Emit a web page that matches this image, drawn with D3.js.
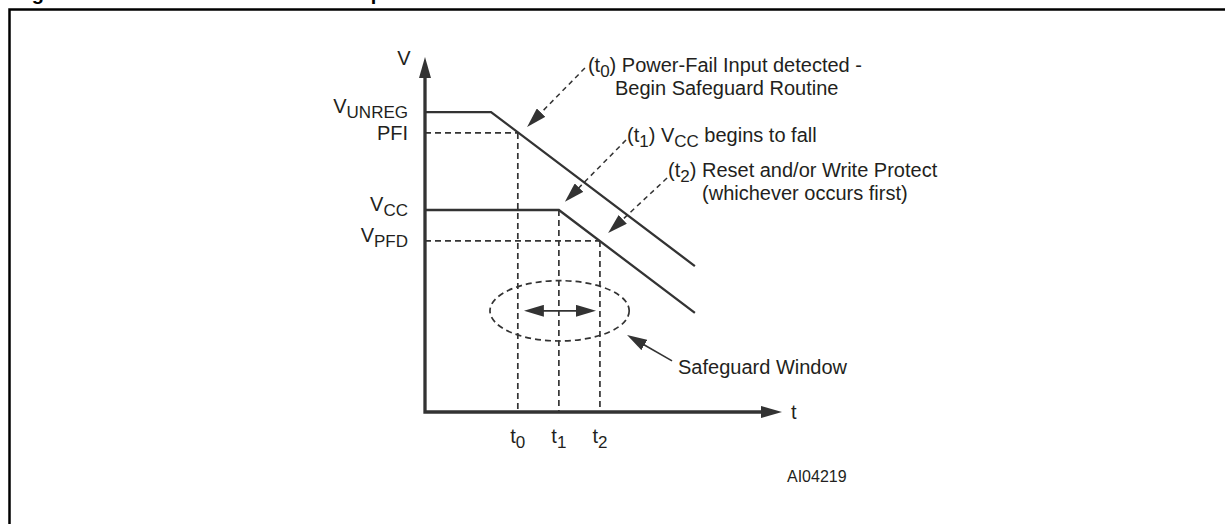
<!DOCTYPE html>
<meta charset="utf-8">
<title>Power-fail safeguard timing</title>
<style>
  body { margin: 0; background: #fff; }
  svg { display: block; }
  text { font-family: "Liberation Sans", Arial, sans-serif; fill: #231f20; }
</style>
<body>
<svg width="1225" height="524"></svg>
<script src="https://d3js.org/d3.v7.min.js"></script>
<script>
  // ---- values (time / voltage in arbitrary units) ----
  var tMax = 10, vMax = 10;
  var timeMarks = [
    { sub: "0", t: 2.6 },
    { sub: "1", t: 3.75 },
    { sub: "2", t: 4.9 }
  ];
  var levels = [
    { name: "V", sub: "UNREG", v: 8.45 },
    { name: "PFI", sub: "", v: 7.86 },
    { name: "V", sub: "CC", v: 5.69 },
    { name: "V", sub: "PFD", v: 4.82 }
  ];
  var unregCurve = [[0, 8.45], [1.85, 8.45], [7.56, 4.11]];
  var vccCurve = [[0, 5.69], [3.75, 5.69], [7.56, 2.79]];
  // dashed guide lines [from, to]
  var guides = [
    [[0, 7.86], [2.6, 7.86]],
    [[2.6, 7.86], [2.6, 0]],
    [[3.75, 5.69], [3.75, 0]],
    [[0, 4.82], [4.9, 4.82]],
    [[4.9, 4.82], [4.9, 0]]
  ];
  var windowCenter = [3.77, 2.85];
  var windowRadius = [1.95, 0.85];
  var windowSpan = [2.77, 4.79];
  // callouts: leader from -> arrow tip, text lines (parts: [text, isSubscript])
  var callouts = [
    { from: [4.48, 9.69], to: [2.86, 8.03], dashed: true,
      lines: [[["(t", 0], ["0", 1], [") Power-Fail Input detected -", 0]],
              [["Begin Safeguard Routine", 0]]] },
    { from: [5.63, 7.66], to: [3.92, 5.92], dashed: true,
      lines: [[["(t", 0], ["1", 1], [") V", 0], ["CC", 1], [" begins to fall", 0]]] },
    { from: [6.78, 6.59], to: [5.13, 5.04], dashed: true,
      lines: [[["(t", 0], ["2", 1], [") Reset and/or Write Protect", 0]],
              [["(whichever occurs first)", 0]]] },
    { from: [6.92, 1.44], to: [5.66, 2.17], dashed: false,
      lines: [[["Safeguard Window", 0]]] }
  ];
  var title = "Figure 12. Power-fail Detection and Input";
  var drawingId = "AI04219";

  // ---- layout ----
  var svg = d3.select("svg");
  var ink = "#333";
  var x = d3.scaleLinear().domain([0, tMax]).range([425, 782]);
  var y = d3.scaleLinear().domain([0, vMax]).range([412, 57]);
  var line = d3.line().x(function (d) { return x(d[0]); }).y(function (d) { return y(d[1]); });

  // text offsets for callouts: first line from leader start, indent of second line
  var calloutText = [
    { dx: 3, dy: 4, indent: 27 },
    { dx: 1, dy: 2, indent: 0 },
    { dx: 1, dy: -1, indent: 34 },
    { dx: 6, dy: 13, indent: 0 }
  ];

  var defs = svg.append("defs");
  function marker(id, len, wid, back) {
    defs.append("marker")
      .attr("id", id)
      .attr("markerUnits", "userSpaceOnUse")
      .attr("viewBox", "0 0 " + len + " " + wid)
      .attr("markerWidth", len).attr("markerHeight", wid)
      .attr("refX", len - back).attr("refY", wid / 2)
      .attr("orient", "auto-start-reverse")
      .append("path")
      .attr("d", "M0,0L" + len + "," + (wid / 2) + "L0," + wid + "Z")
      .attr("fill", ink);
  }
  marker("axisHead", 21, 12, 16);
  marker("head", 20, 12, 14);

  // move end point q back toward p by d pixels
  function shorten(p, q, d) {
    var dx = q[0] - p[0], dy = q[1] - p[1], len = Math.hypot(dx, dy);
    return [q[0] - dx / len * d, q[1] - dy / len * d];
  }

  function rich(sel, parts) {
    var shifted = false;
    parts.forEach(function (p) {
      var ts = sel.append("tspan").text(p[0]);
      if (p[1] && !shifted) { ts.attr("dy", 5).style("font-size", "17px"); shifted = true; }
      else if (p[1]) { ts.style("font-size", "17px"); }
      else if (shifted) { ts.attr("dy", -5); shifted = false; }
    });
  }

  // outer frame and cropped title
  svg.append("rect")
    .attr("x", 9.5).attr("y", 9.5).attr("width", 1400).attr("height", 700)
    .attr("fill", "none").attr("stroke", "#000").attr("stroke-width", 2.5);
  svg.append("text").attr("x", 14).attr("y", 0)
    .style("font-weight", "bold").style("font-size", "20px").style("fill", "#000")
    .text(title);

  // dashed guides
  svg.append("g").selectAll("path").data(guides).enter().append("path")
    .attr("d", line)
    .attr("fill", "none").attr("stroke", ink).attr("stroke-width", 1.7)
    .attr("stroke-dasharray", "6,4");

  // safeguard window
  svg.append("ellipse")
    .attr("cx", x(windowCenter[0])).attr("cy", y(windowCenter[1]))
    .attr("rx", x(windowCenter[0] + windowRadius[0]) - x(windowCenter[0]))
    .attr("ry", y(windowCenter[1] - windowRadius[1]) - y(windowCenter[1]))
    .attr("fill", "none").attr("stroke", ink).attr("stroke-width", 1.7)
    .attr("stroke-dasharray", "6,4");
  var wl = [x(windowSpan[0]), y(windowCenter[1])], wr = [x(windowSpan[1]), y(windowCenter[1])];
  var a = shorten(wr, wl, 14), b = shorten(wl, wr, 14);
  svg.append("path")
    .attr("d", "M" + a + "L" + b)
    .attr("stroke", ink).attr("stroke-width", 1.7)
    .attr("marker-start", "url(#head)").attr("marker-end", "url(#head)");

  // voltage curves
  svg.append("g").selectAll("path").data([unregCurve, vccCurve]).enter().append("path")
    .attr("d", line)
    .attr("fill", "none").attr("stroke", ink).attr("stroke-width", 2.3)
    .attr("stroke-linejoin", "miter");

  // axes
  svg.append("path")
    .attr("d", "M" + x(0) + "," + (y(vMax) + 16) + "L" + x(0) + "," + y(0) + "L" + (x(tMax) - 16) + "," + y(0))
    .attr("fill", "none").attr("stroke", ink).attr("stroke-width", 3.3)
    .attr("marker-start", "url(#axisHead)").attr("marker-end", "url(#axisHead)");
  svg.append("text").attr("x", x(0) - 21).attr("y", y(vMax) + 8)
    .attr("text-anchor", "middle").style("font-size", "20px").text("V");
  svg.append("text").attr("x", x(tMax) + 9).attr("y", y(0) + 7)
    .style("font-size", "20px").text("t");

  // level labels
  svg.append("g").selectAll("text").data(levels).enter().append("text")
    .attr("x", x(0) - 17)
    .attr("y", function (d) { return y(d.v) + (d.sub ? 1 : 7); })
    .attr("text-anchor", "end").style("font-size", "20px")
    .each(function (d) {
      rich(d3.select(this), d.sub ? [[d.name, 0], [d.sub, 1]] : [[d.name, 0]]);
    });

  // time labels
  svg.append("g").selectAll("text").data(timeMarks).enter().append("text")
    .attr("x", function (d) { return x(d.t); })
    .attr("y", y(0) + 31)
    .attr("text-anchor", "middle").style("font-size", "20px")
    .each(function (d) { rich(d3.select(this), [["t", 0], [d.sub, 1]]); });

  // callouts
  callouts.forEach(function (c, i) {
    var p = [x(c.from[0]), y(c.from[1])], q = [x(c.to[0]), y(c.to[1])];
    var e = shorten(p, q, 14);
    svg.append("path")
      .attr("d", "M" + p + "L" + e)
      .attr("stroke", ink).attr("stroke-width", c.dashed ? 1.5 : 1.7)
      .attr("stroke-dasharray", c.dashed ? "5,4" : null)
      .attr("marker-end", "url(#head)");
    var o = calloutText[i];
    c.lines.forEach(function (ln, j) {
      var t = svg.append("text")
        .attr("x", p[0] + o.dx + (j ? o.indent : 0))
        .attr("y", p[1] + o.dy + j * 23)
        .style("font-size", "20px");
      rich(t, ln);
    });
  });

  svg.append("text").attr("x", 787).attr("y", 482)
    .style("font-size", "16px").style("font-family", "'Liberation Sans Narrow', 'Arial Narrow', sans-serif")
    .text(drawingId);
</script>
</body>
